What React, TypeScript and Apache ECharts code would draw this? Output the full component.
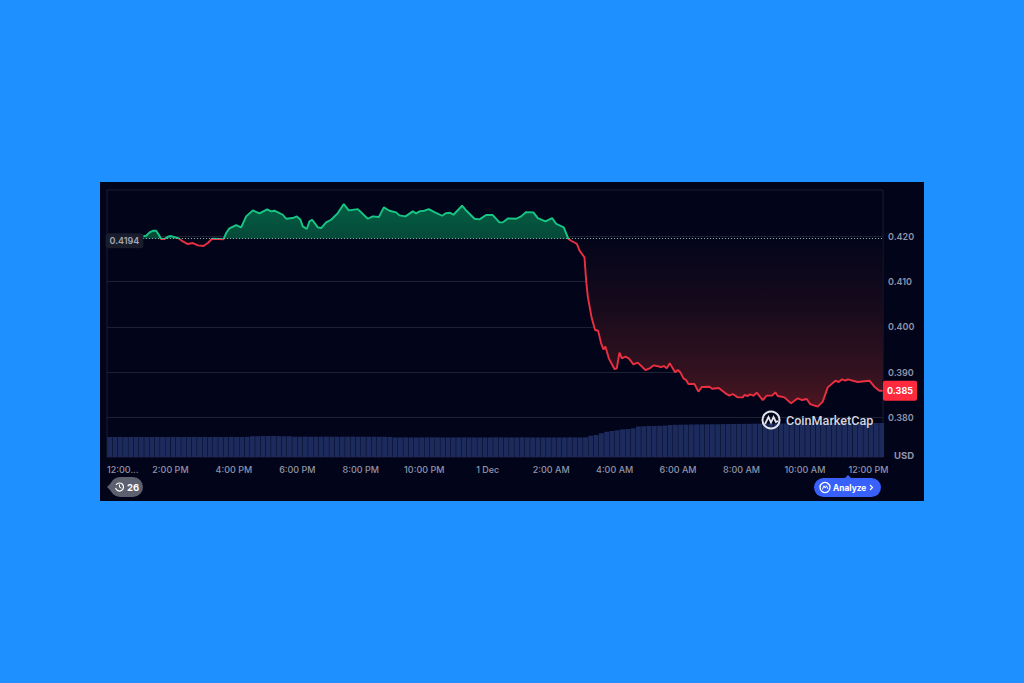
import React, { useEffect, useRef } from "react";
import * as echarts from "echarts";

// minutes since 12:00 PM
const times = [0,25,50,67.8,74.1,80.4,86.7,93,98,102.4,108.7,115,121.3,127.6,135.8,143.4,152.8,162.3,171.8,182.5,190.7,198.9,212.7,220.3,225.3,231.6,244.2,253.7,263.2,275.8,288.4,302.9,310.4,316.7,332.5,338.8,351.4,359,365.9,370.3,377.9,382.9,388,398.7,405,414.4,423.9,436.5,447.8,457.3,474.3,493.2,502.7,514,523.5,534.2,546.8,553.1,564.5,578.3,584.6,592.2,600.4,608.6,619.3,633.8,641.4,648.9,655.2,671.6,677.9,695,704.4,717,729.6,742.2,748.5,758,773.7,783.2,792.6,806.5,814.7,829.2,841.8,849.4,863.9,872.7,877.7,888.4,893.5,903,906.1,909.3,916.8,923.1,928.8,934.5,938.9,942.7,949,959.7,964.1,969.2,973.6,980.5,986.8,995.6,1003.8,1018.3,1027.1,1034.1,1047.9,1053,1058.7,1064.3,1074.4,1079.5,1083.9,1090.2,1095.2,1099.6,1111,1118.5,1124.8,1139.3,1144.4,1157,1169.6,1177.2,1183.5,1192.9,1202.4,1205.5,1211.8,1216.2,1222.5,1228.8,1240.2,1247.7,1257.8,1264.1,1268.5,1281.1,1293.7,1306.4,1314.6,1323.4,1329.7,1344.2,1353.6,1363.1,1377.6,1383.9,1390.2,1396.5,1401,1419.8,1441.9,1451.3,1460.8,1467];
const prices = [0.41903,0.419,0.4192,0.41991,0.42006,0.42079,0.42116,0.42116,0.42028,0.41933,0.41933,0.41984,0.41999,0.41977,0.41947,0.41881,0.41823,0.41845,0.41793,0.41779,0.41845,0.4194,0.41933,0.41925,0.42065,0.42168,0.42241,0.4219,0.42432,0.42564,0.42498,0.42586,0.42542,0.42557,0.42468,0.4238,0.42395,0.42432,0.42358,0.42212,0.42153,0.42322,0.42358,0.4219,0.42175,0.423,0.42358,0.42505,0.42703,0.42564,0.42593,0.4238,0.42432,0.42417,0.4263,0.42557,0.4252,0.42454,0.42432,0.42542,0.42498,0.42549,0.42557,0.42593,0.42527,0.42446,0.42505,0.42513,0.42468,0.42667,0.42579,0.4238,0.42366,0.42461,0.42461,0.423,0.423,0.42388,0.4238,0.42432,0.42527,0.4252,0.42395,0.42322,0.42395,0.4227,0.4219,0.41933,0.41896,0.4183,0.41683,0.41529,0.4103,0.40663,0.40186,0.39929,0.39914,0.39635,0.39503,0.39562,0.39305,0.3907,0.39085,0.3943,0.39305,0.39342,0.39305,0.39173,0.3921,0.39048,0.39092,0.39151,0.39114,0.39136,0.39085,0.39195,0.38997,0.39048,0.39004,0.38865,0.38828,0.3874,0.3874,0.38571,0.38674,0.38681,0.38637,0.38652,0.38534,0.38483,0.3852,0.38446,0.38446,0.38498,0.38476,0.38512,0.38483,0.38549,0.38387,0.38483,0.38483,0.38556,0.38476,0.38446,0.38314,0.38424,0.38387,0.38409,0.38299,0.38241,0.38351,0.38666,0.38813,0.38784,0.38843,0.38813,0.38843,0.38784,0.38813,0.38681,0.38593,0.38593];
const referencePrice = 0.4194;
const lastPriceLabel = "0.385";
const currency = "USD";

const volumeStep = 10;
const volumes = [
  20,20,20.1,20,20,20.1,20,20,20,20.1,20,20,20.1,20,20,20,20.1,20,20,20,20.1,20,20,20.1,20,20,20.2,
  20.8,20.8,20.9,21,21,20.9,20.8,20.8,
  20.3,20.3,20.4,20.3,20.3,20.3,20.4,20.3,20.3,20.3,20.3,20.4,20.3,20.3,20.3,20.3,20.2,20.2,20.1,
  19.6,19.6,19.7,19.6,19.6,19.6,19.6,19.7,19.6,19.6,19.6,19.6,19.6,19.7,19.6,19.6,19.6,19.6,19.6,19.7,19.6,19.6,19.6,19.6,19.7,19.6,19.6,19.6,19.6,19.6,19.6,19.6,19.6,19.7,19.6,19.6,19.7,
  21.3,22,23.8,25.2,26,26.8,27.7,28,28.7,30.5,30.8,31,31,31.2,31.4,32,32.2,32.3,32.4,32.5,32.6,32.6,32.7,32.7,32.8,32.9,33,33,33.1,33.1,33.2,33.3,33.4,33.4,33.4,33.5,33.5,33.6,33.7,33.8,33.8,33.9,34,34,34,34,34,34,34,34,34,34,34,34,34,34
];

const xTickLabels: Record<number, string> = {
  0: "12:00...", 120: "2:00 PM", 240: "4:00 PM", 360: "6:00 PM", 480: "8:00 PM", 600: "10:00 PM",
  720: "1 Dec", 840: "2:00 AM", 960: "4:00 AM", 1080: "6:00 AM", 1200: "8:00 AM", 1320: "10:00 AM", 1440: "12:00 PM",
};

const GREEN = "#16c784";
const RED = "#ea2f40";
const GRAY = "#8f95aa";
const FONT = "Inter";
const X_MAX = 1467.6;

export default function App() {
  const ref = useRef<HTMLDivElement>(null);
  useEffect(() => {
    const chart = echarts.init(ref.current!, undefined, { renderer: "svg" });
    chart.setOption({
      animation: false,
      backgroundColor: "#02041a",
      textStyle: { fontFamily: FONT },
      grid: [
        { left: 7, width: 776, top: 8.6, height: 272.4 },
        { left: 7, width: 776, top: 8, height: 267, show: true, borderColor: "#1b1f30", borderWidth: 1, backgroundColor: "transparent" },
      ],
      xAxis: [
        { gridIndex: 0, type: "value", min: 0, max: X_MAX, show: false },
        {
          gridIndex: 1, type: "value", min: 0, max: X_MAX, interval: 120,
          axisLine: { show: false }, axisTick: { show: false }, splitLine: { show: false },
          axisLabel: {
            color: GRAY, fontSize: 9, fontFamily: FONT, fontWeight: 500, margin: 8,
            showMaxLabel: false, alignMinLabel: "left",
            formatter: (v: number) => xTickLabels[v] ?? "",
          },
        },
      ],
      yAxis: [
        {
          gridIndex: 0, type: "value", position: "right", min: 0.37, max: 0.43, interval: 0.01,
          axisLine: { show: false }, axisTick: { show: false },
          splitLine: { show: true, showMinLine: false, showMaxLine: false, lineStyle: { color: "#1d2134", width: 1 } },
          axisLabel: {
            color: GRAY, fontSize: 9, fontFamily: FONT, fontWeight: 600, margin: 5,
            showMinLabel: false, showMaxLabel: false,
            formatter: (v: number) => v.toFixed(3),
          },
        },
        { gridIndex: 1, type: "value", min: 0, max: 267, show: false },
      ],
      visualMap: {
        show: false, type: "piecewise", seriesIndex: 0, dimension: 1,
        pieces: [
          { gte: 0.3, lt: referencePrice, color: RED },
          { gte: referencePrice, lte: 0.5, color: GREEN },
        ],
      },
      series: [
        {
          type: "line", xAxisIndex: 0, yAxisIndex: 0, z: 5,
          symbol: "none", showSymbol: false, smooth: false,
          data: times.map((t, i) => [t, prices[i]]),
          lineStyle: { width: 1.9 },
          areaStyle: {
            origin: referencePrice, opacity: 1,
            color: {
              type: "linear", global: true, x: 0, y: 0, x2: 0, y2: 240,
              colorStops: [
                { offset: 0, color: "#056a4c" },
                { offset: 0.236, color: "#044a38" },
                { offset: 0.236, color: "#04051a" },
                { offset: 0.5, color: "#150a1c" },
                { offset: 0.8, color: "#34121f" },
                { offset: 1, color: "#581722" },
              ],
            },
          },
          markLine: {
            silent: true, symbol: "none", animation: false, z: 6,
            label: { show: false },
            lineStyle: { color: "#9a9ea8", type: [1, 2], width: 1 },
            data: [[{ coord: [0, referencePrice] }, { coord: [X_MAX, referencePrice] }]],
          },
          markPoint: {
            silent: true, symbol: "circle", symbolSize: 0, animation: false, z: 12,
            data: [
              {
                coord: [33, referencePrice], value: referencePrice,
                label: {
                  show: true, position: "inside", formatter: String(referencePrice), offset: [0, 2],
                  color: "#a3a8b8", fontSize: 9, fontFamily: FONT, fontWeight: 600,
                  backgroundColor: "#191c2b", borderRadius: 3, padding: [3, 4],
                },
              },
              {
                coord: [X_MAX, prices[prices.length - 1]], value: 0,
                label: {
                  show: true, position: "right", distance: 0, formatter: lastPriceLabel,
                  color: "#ffffff", fontSize: 9, fontFamily: FONT, fontWeight: 700,
                  backgroundColor: "#ff2a3d", borderRadius: 2, padding: [5.5, 4],
                },
              },
            ],
          },
        },
        {
          type: "bar", xAxisIndex: 1, yAxisIndex: 1, z: 1, barWidth: 4.9,
          data: volumes.map((v, i) => [(i + 0.5) * volumeStep, v]),
          itemStyle: { color: "#1c2a5c" },
        },
      ],
      graphic: [
        { type: "circle", z: 20, shape: { cx: 671, cy: 238, r: 8.5 }, style: { fill: "none", stroke: "#e4e5ea", lineWidth: 2 } },
        { type: "polyline", z: 20, shape: { points: [[665, 242], [668.5, 235], [671, 240.5], [673.5, 235], [676, 240], [678, 239]] }, style: { fill: "none", stroke: "#e4e5ea", lineWidth: 1.8 } },
        { type: "text", z: 20, x: 686, y: 238, style: { text: "CoinMarketCap", fill: "#d4d6de", font: `500 12.6px Roboto`, verticalAlign: "middle" } },
        { type: "text", x: 794, y: 273, style: { text: currency, fill: GRAY, font: `700 9.5px ${FONT}`, verticalAlign: "middle" } },
        { type: "polygon", shape: { points: [[7, 305], [12, 300], [12, 310]] }, style: { fill: "#5d606e" } },
        { type: "rect", shape: { x: 10, y: 295, width: 33, height: 20, r: 10 }, style: { fill: "#5d606e" } },
        { type: "arc", shape: { cx: 19.5, cy: 305, r: 4, startAngle: -2.6, endAngle: 2.9, clockwise: true }, style: { fill: "none", stroke: "#ffffff", lineWidth: 1.2 } },
        { type: "polyline", shape: { points: [[19.5, 302.5], [19.5, 305.2], [21.5, 306.2]] }, style: { fill: "none", stroke: "#ffffff", lineWidth: 1 } },
        { type: "text", x: 27, y: 305, style: { text: "26", fill: "#ffffff", font: `700 9.5px ${FONT}`, verticalAlign: "middle" } },
        { type: "polygon", shape: { points: [[744, 297], [748, 293], [752, 297]] }, style: { fill: "#3861fb" } },
        { type: "rect", shape: { x: 714, y: 296, width: 67, height: 19, r: 9.5 }, style: { fill: "#3861fb" } },
        { type: "circle", shape: { cx: 725, cy: 305.5, r: 5 }, style: { fill: "none", stroke: "#ffffff", lineWidth: 1.3 } },
        { type: "polyline", shape: { points: [[722.3, 307.5], [724, 303.8], [725.2, 306], [726.4, 303.8], [728, 307]] }, style: { fill: "none", stroke: "#ffffff", lineWidth: 1 } },
        { type: "text", x: 733, y: 305.5, style: { text: "Analyze", fill: "#ffffff", font: `700 8.4px ${FONT}`, verticalAlign: "middle" } },
        { type: "polyline", shape: { points: [[770, 303], [772.5, 305.5], [770, 308]] }, style: { fill: "none", stroke: "#ffffff", lineWidth: 1.2 } },
      ],
    });
    return () => chart.dispose();
  }, []);
  return (
    <div style={{ position: "absolute", left: 0, top: 0, width: 1024, height: 683, background: "#1e90ff", overflow: "hidden" }}>
      <div ref={ref} style={{ position: "absolute", left: 100, top: 182, width: 824, height: 319 }} />
    </div>
  );
}
